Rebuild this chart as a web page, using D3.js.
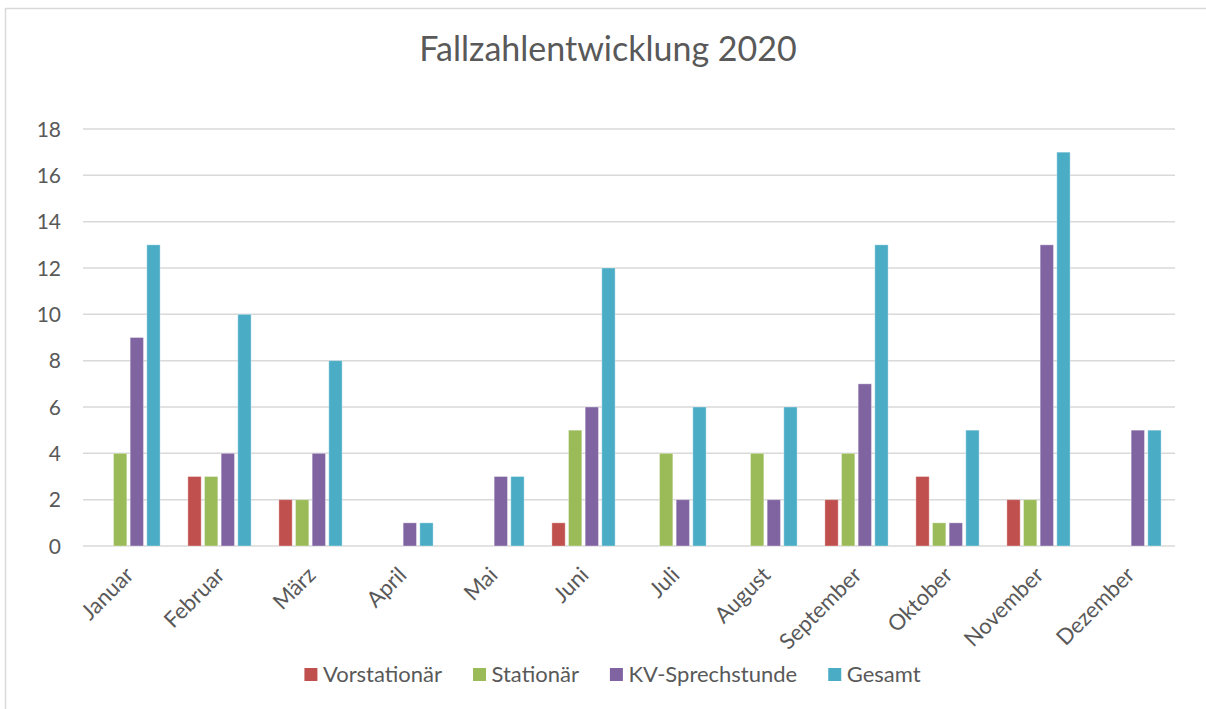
<!DOCTYPE html>
<html>
<head>
<meta charset="utf-8">
<script src="https://cdn.jsdelivr.net/npm/d3@7"></script>
<style>
  body { margin: 0; background: #fff; }
  svg text { font-family: Lato, "Open Sans", sans-serif; fill: #595959; }
</style>
</head>
<body>
<svg id="chart" width="1206" height="709"></svg>
<script>
// data
const months = ["Januar", "Februar", "März", "April", "Mai", "Juni", "Juli",
  "August", "September", "Oktober", "November", "Dezember"];
const seriesNames = ["Vorstationär", "Stationär", "KV-Sprechstunde", "Gesamt"];
const vorstationaer = [0, 3, 2, 0, 0, 1, 0, 0, 2, 3, 2, 0];
const stationaer = [4, 3, 2, 0, 0, 5, 4, 4, 4, 1, 2, 0];
const kvSprechstunde = [9, 4, 4, 1, 3, 6, 2, 2, 7, 1, 13, 5];
const gesamt = [13, 10, 8, 1, 3, 12, 6, 6, 13, 5, 17, 5];
const yTicks = [0, 2, 4, 6, 8, 10, 12, 14, 16, 18];
const colors = ["#C0504D", "#9BBB59", "#8064A2", "#4BACC6"];

const seriesValues = [vorstationaer, stationaer, kvSprechstunde, gesamt];

const svg = d3.select("#chart");

// outer chart frame (only top and left edges are visible in the crop)
svg.append("line").attr("x1", 5).attr("x2", 1206).attr("y1", 8.5).attr("y2", 8.5)
  .attr("stroke", "#D9D9D9").attr("stroke-width", 1.5);
svg.append("line").attr("x1", 5.5).attr("x2", 5.5).attr("y1", 8).attr("y2", 709)
  .attr("stroke", "#D9D9D9").attr("stroke-width", 1.5);

const plotLeft = 83, plotRight = 1175, plotTop = 129, plotBottom = 546;

const x0 = d3.scaleBand().domain(months).range([plotLeft, plotRight]).padding(0);
const groupWidth = x0.bandwidth() * 0.695;
const x1 = d3.scaleBand().domain(seriesNames)
  .range([-groupWidth / 2, groupWidth / 2]).paddingInner(0.2);
const y = d3.scaleLinear().domain([0, 18]).range([plotBottom, plotTop]);

// gridlines
svg.append("g")
  .selectAll("line")
  .data(yTicks)
  .enter()
  .append("line")
  .attr("x1", plotLeft)
  .attr("x2", plotRight)
  .attr("y1", (d) => y(d))
  .attr("y2", (d) => y(d))
  .attr("stroke", "#D9D9D9")
  .attr("stroke-width", 1.5);

// y tick labels
svg.append("g")
  .selectAll("text")
  .data(yTicks)
  .enter()
  .append("text")
  .attr("x", 61)
  .attr("y", (d) => y(d))
  .attr("dy", "0.36em")
  .attr("text-anchor", "end")
  .style("font-size", "21px")
  .text((d) => d);

// bars, one group per series, zero values are not drawn
const bars = svg.append("g");
seriesNames.forEach(function (name, i) {
  const rows = months.map((m, j) => ({ month: m, value: seriesValues[i][j] }))
    .filter((d) => d.value > 0);
  bars.append("g")
    .selectAll("rect")
    .data(rows)
    .enter()
    .append("rect")
    .attr("x", (d) => x0(d.month) + x0.bandwidth() / 2 + x1(name))
    .attr("width", x1.bandwidth())
    .attr("y", (d) => y(d.value))
    .attr("height", (d) => y(0) - y(d.value))
    .attr("fill", colors[i])
    .attr("stroke", "#fff")
    .attr("stroke-opacity", 0.35)
    .attr("stroke-width", 1);
});

// x labels, rotated
svg.append("g")
  .selectAll("text")
  .data(months)
  .enter()
  .append("text")
  .attr("transform", (d) =>
    "translate(" + (x0(d) + x0.bandwidth() / 2 + 1) + "," + 571 + ") rotate(-45)")
  .attr("text-anchor", "end")
  .attr("dy", "0.35em")
  .style("font-size", "22px")
  .text((d) => d);

// title
svg.append("text")
  .attr("x", 608)
  .attr("y", 61)
  .attr("text-anchor", "middle")
  .style("font-size", "34px")
  .text("Fallzahlentwicklung 2020");

// legend
const legend = svg.append("g");
let lx = 0;
seriesNames.forEach(function (name, i) {
  const item = legend.append("g").attr("transform", "translate(" + lx + ",0)");
  item.append("rect").attr("x", 0).attr("y", 668).attr("width", 13).attr("height", 13)
    .attr("fill", colors[i]);
  const t = item.append("text").attr("x", 18.5).attr("y", 682)
    .style("font-size", "22px").text(name);
  lx += 18.5 + t.node().getComputedTextLength() + 31;
});
const legendWidth = lx - 31;
legend.attr("transform", "translate(" + (612.5 - legendWidth / 2) + ",0)");
</script>
</body>
</html>
